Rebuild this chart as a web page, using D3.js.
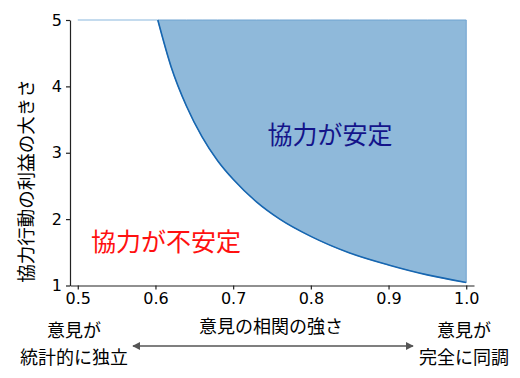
<!DOCTYPE html>
<html>
<head>
<meta charset="utf-8">
<script src="https://cdn.jsdelivr.net/npm/d3@7"></script>
<style>
  body { margin: 0; background: #fff; }
  svg text { font-family: "Noto Sans CJK JP", "DejaVu Sans", sans-serif; }
  .tick text { font-family: "DejaVu Sans", sans-serif; font-size: 16px; fill: #000; }
  .tick line, .domain { stroke: #222; stroke-width: 1.2; }
</style>
</head>
<body>
<div id="chart"></div>
<script>
// correlation of opinions (x) vs. benefit of cooperation at the stability boundary (y)
var correlation = [0.603, 0.62, 0.64, 0.66, 0.68, 0.70, 0.73, 0.76, 0.80, 0.85, 0.90, 0.95, 1.00]
var benefit     = [5.00, 4.30, 3.70, 3.24, 2.88, 2.60, 2.26, 2.00, 1.74, 1.49, 1.31, 1.16, 1.045]
var xTicks = [0.5, 0.6, 0.7, 0.8, 0.9, 1.0]
var yTicks = [1, 2, 3, 4, 5]
var xRange = [0.49, 1.01]
var yRange = [1, 5]
var stripX = [0.5, 0.603]

var width = 520, height = 378
var svg = d3.select('#chart').append('svg')
  .attr('width', width)
  .attr('height', height)

var x = d3.scaleLinear().domain(xRange).range([70, 474])
var y = d3.scaleLinear().domain(yRange).range([285.5, 20])

var points = correlation.map(function(c, i) { return {x: c, y: benefit[i]} })

// stable region
var area = d3.area()
  .x(function(d) { return x(d.x) })
  .y0(function() { return y(5) })
  .y1(function(d) { return y(d.y) })
  .curve(d3.curveMonotoneX)

svg.append('path')
  .datum(points)
  .attr('d', area)
  .attr('fill', '#8fb9da')
  .attr('stroke', '#6fa3d0')
  .attr('stroke-width', 1)

// zero-height part of the fill along the top
svg.append('line')
  .attr('x1', x(stripX[0])).attr('x2', x(stripX[1]))
  .attr('y1', y(5)).attr('y2', y(5))
  .attr('stroke', '#c4dbee')
  .attr('stroke-width', 2)

svg.append('path')
  .datum(points)
  .attr('d', d3.line()
    .x(function(d) { return x(d.x) })
    .y(function(d) { return y(d.y) })
    .curve(d3.curveMonotoneX))
  .attr('fill', 'none')
  .attr('stroke', '#1766b0')
  .attr('stroke-width', 1.6)

// axes
svg.append('g')
  .attr('transform', 'translate(0,285.5)')
  .call(d3.axisBottom(x).tickValues(xTicks).tickSize(4).tickPadding(3).tickSizeOuter(0)
    .tickFormat(d3.format('.1f')))

svg.append('g')
  .attr('transform', 'translate(70,0)')
  .call(d3.axisLeft(y).tickValues(yTicks).tickSize(4).tickPadding(4).tickSizeOuter(0)
    .tickFormat(d3.format('d')))

// region labels
svg.append('text')
  .attr('x', 330).attr('y', 133)
  .attr('text-anchor', 'middle').attr('dominant-baseline', 'central')
  .attr('font-size', 25).attr('fill', '#14148a')
  .text('協力が安定')

svg.append('text')
  .attr('x', 166).attr('y', 240)
  .attr('text-anchor', 'middle').attr('dominant-baseline', 'central')
  .attr('font-size', 25).attr('fill', '#ff1010')
  .text('協力が不安定')

// axis titles
svg.append('text')
  .attr('x', 271).attr('y', 325)
  .attr('text-anchor', 'middle').attr('dominant-baseline', 'central')
  .attr('font-size', 18)
  .text('意見の相関の強さ')

svg.append('text')
  .attr('transform', 'translate(25,181) rotate(-90)')
  .attr('text-anchor', 'middle').attr('dominant-baseline', 'central')
  .attr('font-size', 18.5)
  .text('協力行動の利益の大きさ')

// end notes
var notes = [
  {cx: 74, lines: ['意見が', '統計的に独立']},
  {cx: 464, lines: ['意見が', '完全に同調']}
]
notes.forEach(function(n) {
  n.lines.forEach(function(t, i) {
    svg.append('text')
      .attr('x', n.cx).attr('y', 329 + i * 27)
      .attr('text-anchor', 'middle').attr('dominant-baseline', 'central')
      .attr('font-size', 18)
      .text(t)
  })
})

// double arrow
var defs = svg.append('defs')
defs.append('marker')
  .attr('id', 'head')
  .attr('viewBox', '0 0 10 10')
  .attr('refX', 9).attr('refY', 5)
  .attr('markerWidth', 8).attr('markerHeight', 8)
  .attr('markerUnits', 'userSpaceOnUse')
  .attr('orient', 'auto-start-reverse')
  .append('path')
  .attr('d', 'M0,0 L10,5 L0,10 Z')
  .attr('fill', '#555')

svg.append('line')
  .attr('x1', 133).attr('x2', 413)
  .attr('y1', 346).attr('y2', 346)
  .attr('stroke', '#555').attr('stroke-width', 1.5)
  .attr('marker-start', 'url(#head)')
  .attr('marker-end', 'url(#head)')
</script>
</body>
</html>
